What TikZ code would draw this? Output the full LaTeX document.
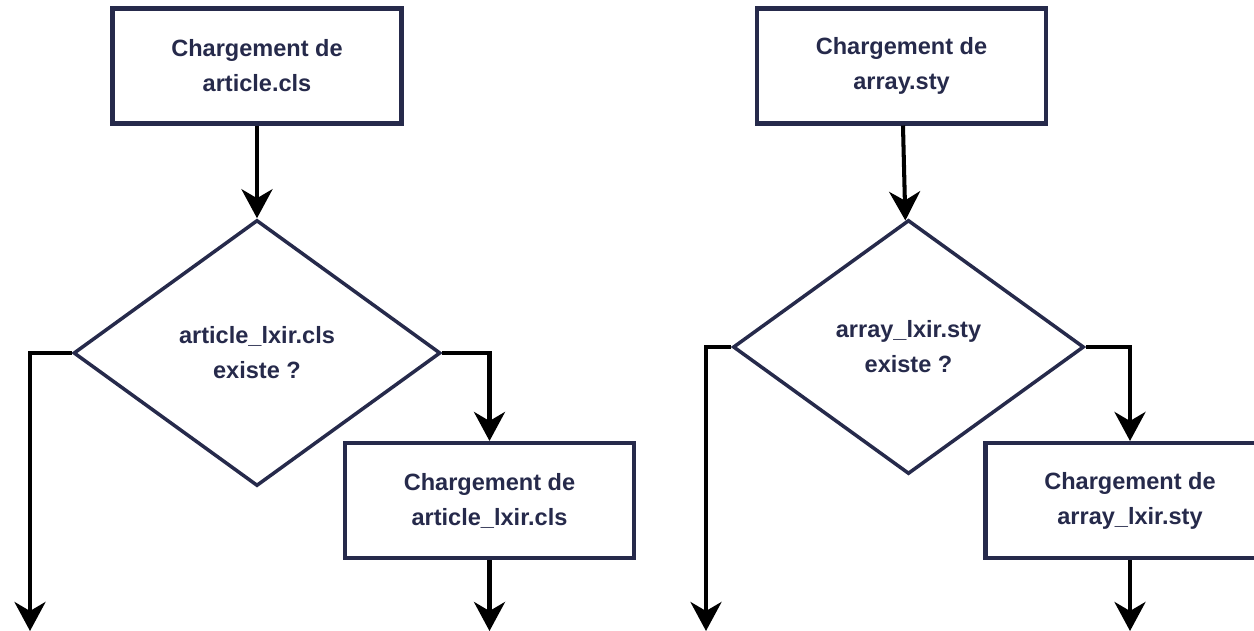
\documentclass[tikz,border=0pt]{standalone}
\usepackage{fontspec}
\setmainfont{Liberation Sans}
\usepackage{xcolor}
\usepackage{tikz}
\usetikzlibrary{shapes.geometric,arrows.meta}
\definecolor{navy}{HTML}{262A4B}

\begin{document}
\begin{tikzpicture}[
  box/.style={draw=navy, line width=2.3pt, minimum width=5.78cm, minimum height=2.3cm, align=center, text=navy, font=\bfseries\fontsize{13.4}{20}\selectfont},
  test/.style={diamond, draw=navy, line width=2pt, inner sep=0pt, align=center, text=navy, font=\bfseries\fontsize{13.4}{20}\selectfont},
  flow/.style={line width=2.3pt, -{Stealth[length=0.58cm, width=0.62cm, inset=0.18cm]}}
]
\useasboundingbox (0,0) rectangle (25.08,-12.62);
\node[box] (clsload) at (5.14,-1.32) {Chargement de\\article.cls};
\node[test, minimum width=7.34cm, minimum height=5.32cm] (clstest) at (5.14,-7.06) {article\_lxir.cls\\existe ?};
\node[box] (lxirload) at (9.79,-10.01) {Chargement de\\article\_lxir.cls};
\coordinate (clsno) at (0.6,-12.62);
\coordinate (clsend) at (9.79,-12.62);
\draw[flow] (clsload) -- (clstest);
\draw[flow] (clstest.west) -| (clsno);
\draw[flow] (clstest.east) -| (lxirload.north);
\draw[flow] (lxirload) -- (clsend);

\node[box] (styload) at (18.03,-1.32) {Chargement de\\array.sty};
\node[test, minimum width=7.02cm, minimum height=5.08cm] (stytest) at (18.17,-6.94) {array\_lxir.sty\\existe ?};
\node[box] (stylxirload) at (22.6,-10.01) {Chargement de\\array\_lxir.sty};
\coordinate (styno) at (14.12,-12.62);
\coordinate (styend) at (22.6,-12.62);
\draw[flow] (styload) -- (stytest);
\draw[flow] (stytest.west) -| (styno);
\draw[flow] (stytest.east) -| (stylxirload.north);
\draw[flow] (stylxirload) -- (styend);
\end{tikzpicture}
\end{document}
